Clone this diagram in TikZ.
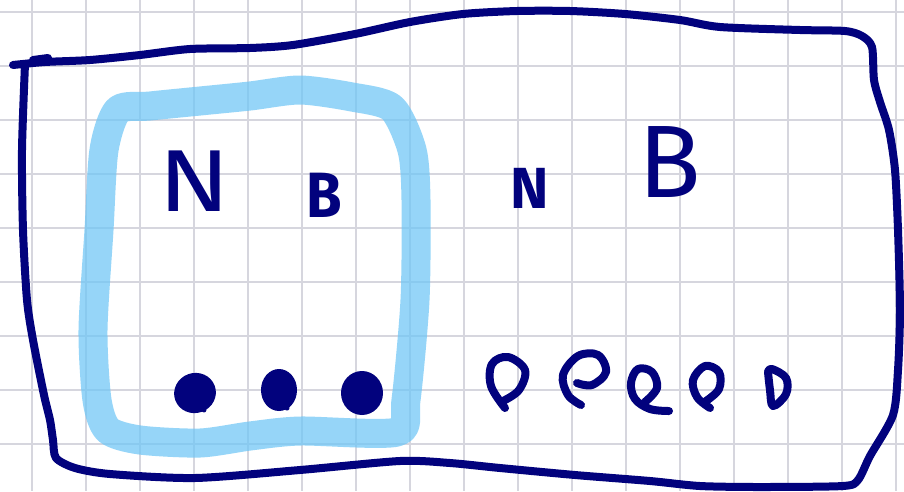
\documentclass[tikz,border=0pt]{standalone}
\usepackage{fontspec}
\newfontfamily\handfont{Fira Sans}
\definecolor{navy}{RGB}{2,2,125}
\definecolor{gridc}{RGB}{214,214,222}
\definecolor{hl}{RGB}{110,198,246}
\tikzset{
  pen/.style={draw=navy, line width=8pt, line cap=round, line join=round},
  marker/.style={draw=hl, line width=29pt, line cap=round, line join=round, draw opacity=0.72},
  letter/.style={text=navy, inner sep=0pt},
  blob/.style={fill=navy},
}
\begin{document}
\begin{tikzpicture}[x=1pt,y=-1pt]
\useasboundingbox (0,0) rectangle (904,491);
\fill[white] (0,0) rectangle (904,491);
% grid
\foreach \gx in {32,86,...,896} \draw[gridc, line width=1.3pt] (\gx,0) -- (\gx,491);
\foreach \gy in {12,66,...,444} \draw[gridc, line width=1.3pt] (0,\gy) -- (904,\gy);
% highlighter box
\draw[marker] plot[smooth cycle, tension=0.45] coordinates {
  (118,110) (150,106) (200,101) (250,96) (300,90) (352,97) (392,108)
  (412,150) (416,200) (415,300) (406,400) (397,432)
  (300,431) (250,436) (200,443) (140,440) (108,430)
  (97,400) (93,330) (99,230) (104,150)};
% outer frame
\draw[pen] plot[smooth, tension=0.45] coordinates {
  (13,65) (45,62) (90,60) (140,55) (190,49) (250,48) (293,45) (355,34)
  (410,22) (463,14) (517,11) (570,11) (625,14) (680,20) (720,27) (800,30)
  (845,31) (862,36) (872,47) (874,80) (880,102) (889,130) (895,170) (898,230)
  (900,310) (898,370) (893,415) (870,456) (858,480) (843,486) (760,487)
  (700,486) (650,481) (575,475) (500,468) (450,463) (400,461) (300,470)
  (195,478) (110,474) (75,468) (56,458) (53,440) (50,420) (44,395) (33,340)
  (27,300) (23,230) (22,150) (25,64)};
\draw[pen] (33,60) -- (48,58);
% letters
\node[letter, font=\handfont\fontsize{88}{88}\selectfont, xscale=1.2] (n1) at (195,181) {N};
\node[letter, font=\handfont\bfseries\fontsize{64}{64}\selectfont, xscale=0.9] (b1) at (324,195) {B};
\node[letter, font=\handfont\bfseries\fontsize{58}{58}\selectfont] (n2) at (530,188) {N};
\node[letter, font=\handfont\fontsize{103}{103}\selectfont] (b2) at (670,162) {B};
% filled dots
\fill[blob, rotate around={20:(195,393)}] (195,393) ellipse[x radius=21, y radius=20];
\fill[blob] (279,390) ellipse[x radius=18, y radius=21];
\fill[blob] (362,393) ellipse[x radius=21, y radius=22];
\draw[navy, line width=5pt, line cap=round] (200,405) -- (204,410);
\draw[navy, line width=5pt, line cap=round] (285,403) -- (287,408);
% open loops
\draw[pen] plot[smooth, tension=0.6] coordinates {(505,408) (491,386) (492,364) (508,357) (525,370) (519,390) (503,401)};
\draw[pen] plot[smooth, tension=0.6] coordinates {(577,383) (592,385) (606,372) (598,355) (578,356) (563,375) (568,395) (581,405)};
\draw[pen] plot[smooth, tension=0.6] coordinates {(645,402) (657,388) (652,372) (638,369) (631,383) (635,399) (650,409) (669,411)};
\draw[pen] plot[smooth, tension=0.6] coordinates {(710,408) (697,397) (693,380) (705,366) (719,372) (719,389) (706,401)};
\draw[pen] plot[smooth, tension=0.6] coordinates {(768,372) (770,390) (773,406) (786,394) (786,378) (772,369) (768,372)};
\end{tikzpicture}
\end{document}
